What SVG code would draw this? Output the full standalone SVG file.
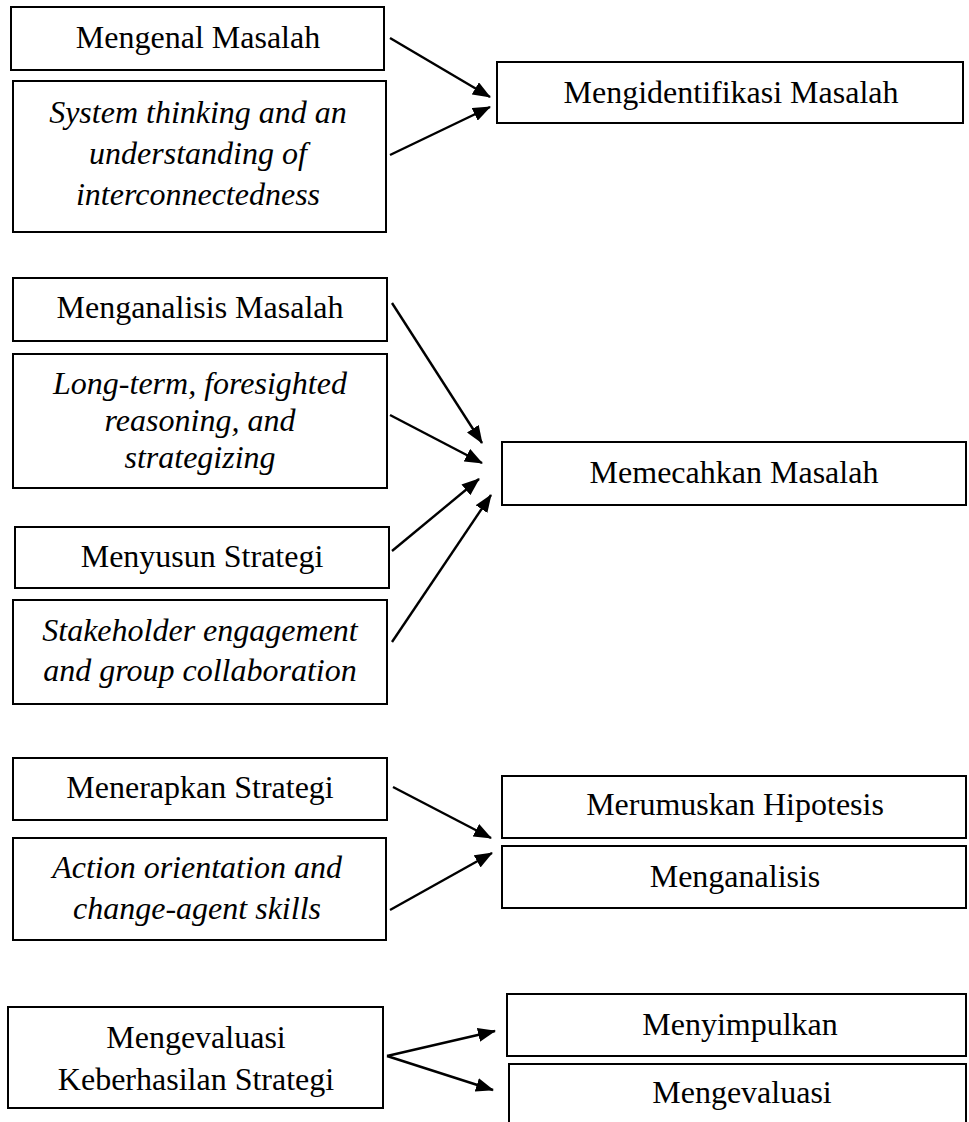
<svg xmlns="http://www.w3.org/2000/svg" width="969" height="1122" viewBox="0 0 969 1122">
<style>
.box{fill:#fff;stroke:#000;stroke-width:2}
text{font-family:'Liberation Serif','Tinos','Times New Roman','DejaVu Serif',serif;font-size:32px;fill:#000;text-anchor:middle}
.i{font-style:italic}
.c{stroke:#000;stroke-width:2.4;fill:none;marker-end:url(#ah)}
</style>
<defs>
<marker id="ah" markerUnits="userSpaceOnUse" markerWidth="18" markerHeight="14" refX="17" refY="7" orient="auto">
<path d="M0,0 L18,7 L0,14 z" fill="#000"/>
</marker>
</defs>
<rect width="969" height="1122" fill="#fff"/>
<g id="connectors">
<line class="c" x1="390" y1="38" x2="490" y2="97"/>
<line class="c" x1="390" y1="155" x2="490" y2="107"/>
<line class="c" x1="392" y1="303" x2="482" y2="443"/>
<line class="c" x1="390" y1="415" x2="482" y2="463"/>
<line class="c" x1="392" y1="551" x2="479" y2="479"/>
<line class="c" x1="392" y1="642" x2="491" y2="495"/>
<line class="c" x1="393" y1="787" x2="491" y2="838"/>
<line class="c" x1="390" y1="910" x2="492" y2="853"/>
<line class="c" x1="387" y1="1056" x2="495" y2="1031"/>
<line class="c" x1="387" y1="1056" x2="493" y2="1090"/>
</g>
<g id="n1"><rect class="box" x="11" y="7" width="373" height="63"/><text x="198" y="48">Mengenal Masalah</text></g>
<g id="n2"><rect class="box" x="13" y="81" width="373" height="151"/><text class="i" x="198" y="123">System thinking and an</text><text class="i" x="198" y="164">understanding of</text><text class="i" x="198" y="205">interconnectedness</text></g>
<g id="n3"><rect class="box" x="497" y="62" width="466" height="61"/><text x="731" y="103">Mengidentifikasi Masalah</text></g>
<g id="n4"><rect class="box" x="13" y="278" width="374" height="63"/><text x="200" y="318">Menganalisis Masalah</text></g>
<g id="n5"><rect class="box" x="13" y="354" width="374" height="134"/><text class="i" x="200" y="394">Long-term, foresighted</text><text class="i" x="200" y="431">reasoning, and</text><text class="i" x="200" y="468">strategizing</text></g>
<g id="n6"><rect class="box" x="15" y="527" width="374" height="61"/><text x="202" y="567">Menyusun Strategi</text></g>
<g id="n7"><rect class="box" x="13" y="600" width="374" height="104"/><text class="i" x="200" y="641">Stakeholder engagement</text><text class="i" x="200" y="681">and group collaboration</text></g>
<g id="n8"><rect class="box" x="502" y="442" width="464" height="63"/><text x="734" y="483">Memecahkan Masalah</text></g>
<g id="n9"><rect class="box" x="13" y="758" width="374" height="62"/><text x="200" y="798">Menerapkan Strategi</text></g>
<g id="n10"><rect class="box" x="13" y="838" width="373" height="102"/><text class="i" x="197" y="878">Action orientation and</text><text class="i" x="197" y="919">change-agent skills</text></g>
<g id="n11"><rect class="box" x="502" y="776" width="464" height="62"/><text x="735" y="815">Merumuskan Hipotesis</text></g>
<g id="n12"><rect class="box" x="502" y="846" width="464" height="62"/><text x="735" y="887">Menganalisis</text></g>
<g id="n13"><rect class="box" x="8" y="1007" width="375" height="101"/><text x="196" y="1048">Mengevaluasi</text><text x="196" y="1090">Keberhasilan Strategi</text></g>
<g id="n14"><rect class="box" x="507" y="994" width="459" height="62"/><text x="740" y="1035">Menyimpulkan</text></g>
<g id="n15"><rect class="box" x="509" y="1064" width="457" height="80"/><text x="742" y="1103">Mengevaluasi</text></g>
</svg>
